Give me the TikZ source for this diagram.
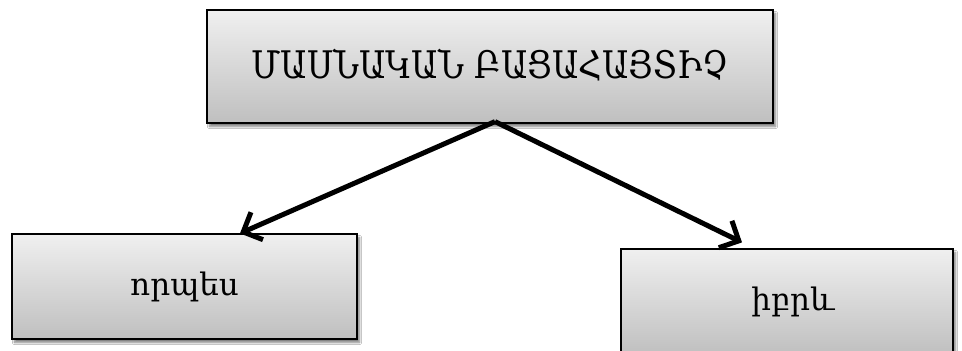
\documentclass[tikz,border=0pt]{standalone}
\usepackage{fontspec}
\setmainfont{DejaVu Serif}
\usetikzlibrary{arrows.meta,shadows.blur,calc}
\begin{document}
\begin{tikzpicture}[x=1pt,y=1pt,
  gbox/.style={draw=black, line width=1.2pt, top color=gray!12, bottom color=gray!50,
    blur shadow={shadow xshift=2.5pt, shadow yshift=-3.5pt, shadow blur steps=6, shadow opacity=50},
    inner sep=0pt},
  bigtext/.style={font=\fontsize{38}{42}\selectfont},
  smalltext/.style={font=\fontsize{31}{36}\selectfont},
  conn/.style={line width=5pt, -{Straight Barb[length=15pt, width=30pt, line width=5pt]}}]
\clip (0,0) rectangle (962,351);
\fill[white] (0,0) rectangle (962,351);
\node[gbox, bigtext, minimum width=566pt, minimum height=113pt] (top) at (490,284.5) {\raisebox{5pt}{\scalebox{0.86}[1]{ՄԱՍՆԱԿԱՆ ԲԱՑԱՀԱՅՏԻՉ}}};
\node[gbox, smalltext, minimum width=345pt, minimum height=105pt] (left) at (184.5,64.5) {որպես};
\node[gbox, smalltext, minimum width=332pt, minimum height=106pt] (right) at (787,49) {\hspace*{12pt}իբրև};
\coordinate (s) at ($(top.south)+(5,2)$);
\draw[conn] (s) -- ($(left.north)+(55.5,0)$);
\draw[conn] (s) -- ($(right.north)+(-45,6)$);
\end{tikzpicture}
\end{document}
